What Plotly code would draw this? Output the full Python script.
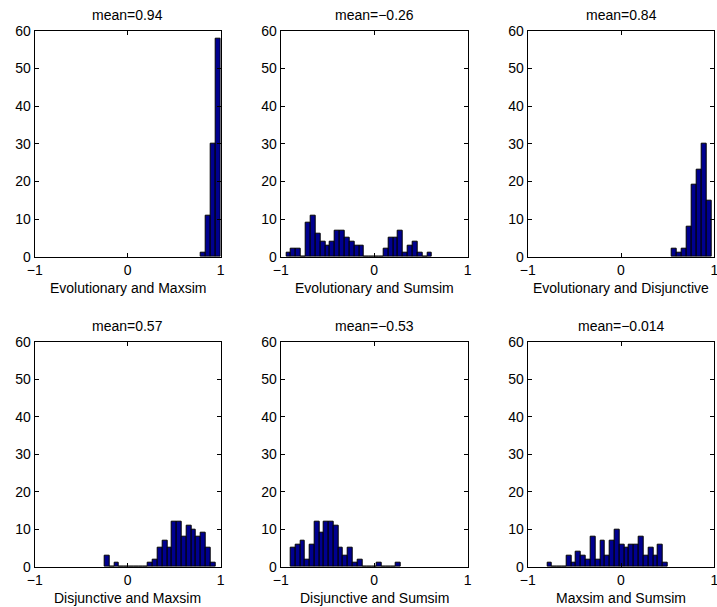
import plotly.graph_objects as go

# ---- data (100 samples per panel) ----
titles = ["mean=0.94", "mean=−0.26", "mean=0.84",
          "mean=0.57", "mean=−0.53", "mean=−0.014"]
xlabels = ["Evolutionary and Maxsim", "Evolutionary and Sumsim", "Evolutionary and Disjunctive",
           "Disjunctive and Maxsim", "Disjunctive and Sumsim", "Maxsim and Sumsim"]

bin_start = [0.78, -0.94, 0.539, -0.248, -0.893, -0.79]
bin_width = [0.054, 0.052, 0.0536, 0.0518, 0.051, 0.0516]

counts_evo_max = [1, 11, 30, 58]
counts_evo_sum = [1, 2, 2, 0, 9, 11, 6, 4, 3, 4, 7, 7, 5, 4, 3, 3, 0, 0, 0, 0,
                  2, 5, 5, 7, 1, 3, 4, 1, 0, 1]
counts_evo_dis = [2, 1, 2, 8, 19, 23, 30, 15]
counts_dis_max = [3, 0, 1, 0, 0, 0, 0, 0, 0, 1, 2, 5, 7, 5, 12, 12, 8, 11, 10, 8, 9, 5, 1]
counts_dis_sum = [5, 6, 7, 2, 6, 12, 9, 12, 12, 11, 5, 3, 5, 1, 2, 0, 0, 0, 1, 0, 0, 0, 1]
counts_max_sum = [1, 0, 0, 0, 3, 1, 4, 3, 2, 8, 2, 7, 3, 7, 10, 6, 5, 6, 6, 8, 3, 5, 3, 6, 1]

all_counts = [counts_evo_max, counts_evo_sum, counts_evo_dis,
              counts_dis_max, counts_dis_sum, counts_max_sum]

x_ticks = [-1, 0, 1]
y_ticks = [0, 10, 20, 30, 40, 50, 60]

# ---- layout geometry (pixels in a 717x607 page) ----
W, H = 717, 607
col_px = [(34.7, 220.7), (280.7, 467.7), (527.7, 714.3)]
row_px = [(30.7, 256.7), (341.7, 566.7)]

FONT = "Liberation Sans, Arial, Helvetica, sans-serif"
FS = 14
BAR_COLOR = "rgb(0,0,143)"

fig = go.Figure()
annotations = []
for k in range(6):
    r, c = divmod(k, 3)
    xa = "x" if k == 0 else f"x{k+1}"
    ya = "y" if k == 0 else f"y{k+1}"
    w = bin_width[k]
    centers = [bin_start[k] + w * (i + 0.5) for i in range(len(all_counts[k]))]
    fig.add_trace(go.Bar(
        x=centers, y=all_counts[k], width=w,
        marker=dict(color=BAR_COLOR, line=dict(color="black", width=1)),
        xaxis=xa, yaxis=ya, showlegend=False, hoverinfo="x+y"))

    x0, x1 = col_px[c]
    y0, y1 = row_px[r]
    dom_x = [x0 / W, x1 / W]
    dom_y = [1 - y1 / H, 1 - y0 / H]
    axis_common = dict(showgrid=False, zeroline=False, showline=True, linecolor="black",
                       linewidth=1, mirror="ticks", ticks="inside", ticklen=4,
                       tickcolor="black", tickwidth=1, automargin=False,
                       ticklabeloverflow="allow",
                       tickfont=dict(family=FONT, size=FS, color="black"))
    fig.layout[("xaxis" if k == 0 else f"xaxis{k+1}")] = dict(
        domain=dom_x, range=[-1, 1], tickvals=x_ticks, anchor=ya, **axis_common)
    fig.layout[("yaxis" if k == 0 else f"yaxis{k+1}")] = dict(
        domain=dom_y, range=[0, 60], tickvals=y_ticks, anchor=xa, **axis_common)

    cx = (x0 + x1) / 2 / W
    annotations.append(dict(text=titles[k], x=cx, y=1 - (y0 - 15.5) / H,
                            xref="paper", yref="paper", showarrow=False,
                            xanchor="center", yanchor="middle",
                            font=dict(family=FONT, size=FS, color="black")))
    annotations.append(dict(text=xlabels[k], x=cx, y=1 - (y1 + 31) / H,
                            xref="paper", yref="paper", showarrow=False,
                            xanchor="center", yanchor="middle",
                            font=dict(family=FONT, size=FS, color="black")))

fig.update_layout(template="none", width=W, height=H, margin=dict(l=0, r=0, t=0, b=0),
                  paper_bgcolor="white", plot_bgcolor="white",
                  bargap=0, annotations=annotations,
                  font=dict(family=FONT, size=FS, color="black"))

fig.write_html("out.html", config={"displayModeBar": False},
               post_script="document.body.style.margin='0';document.body.style.overflow='hidden';")
